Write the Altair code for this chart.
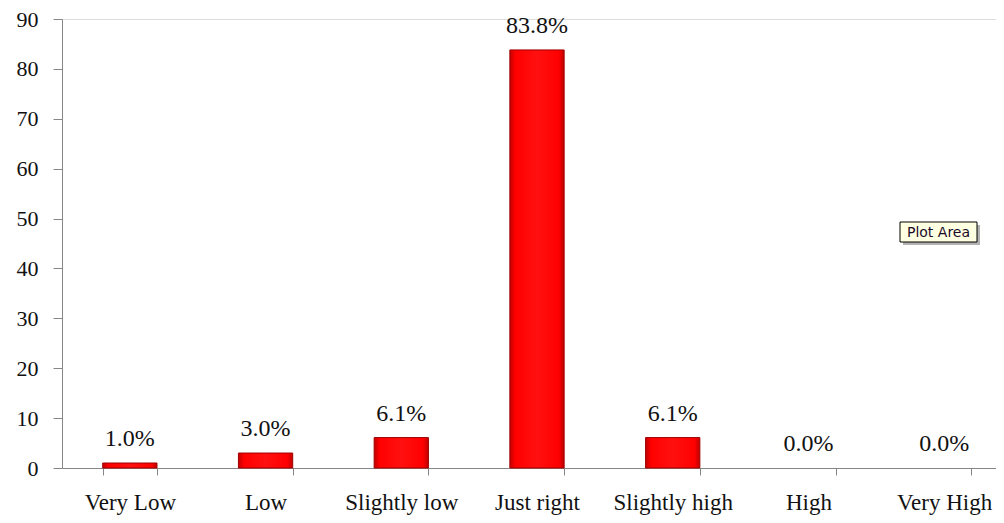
import altair as alt
import pandas as pd

categories = ["Very Low", "Low", "Slightly low", "Just right", "Slightly high", "High", "Very High"]
values = [1.0, 3.0, 6.1, 83.8, 6.1, 0.0, 0.0]
labels = ["1.0%", "3.0%", "6.1%", "83.8%", "6.1%", "0.0%", "0.0%"]
y_ticks = [0, 10, 20, 30, 40, 50, 60, 70, 80, 90]

df = pd.DataFrame({"cat": categories, "val": values, "lab": labels})

FONT = "Liberation Serif"
AXIS_COLOR = "#868686"
TXT = "#111111"

x_enc = alt.X(
    "cat:N",
    sort=categories,
    scale=alt.Scale(range=[0, 950], paddingInner=0.6, paddingOuter=0.3),
    axis=alt.Axis(
        title=None, labelAngle=0, labelFont=FONT, labelFontSize=23, labelColor=TXT,
        labelPadding=16, tickSize=7, tickColor=AXIS_COLOR, domainColor=AXIS_COLOR,
        tickBand="extent", grid=False,
    ),
)
y_enc = alt.Y(
    "val:Q",
    scale=alt.Scale(domain=[0, 90], nice=False),
    axis=alt.Axis(
        title=None, values=y_ticks, labelFont=FONT, labelFontSize=22, labelColor=TXT,
        labelPadding=15, tickSize=9, tickColor=AXIS_COLOR, domainColor=AXIS_COLOR, grid=False,
    ),
)

grad = alt.Gradient(
    gradient="linear",
    stops=[
        alt.GradientStop(color="#C00000", offset=0),
        alt.GradientStop(color="#FF0000", offset=0.1),
        alt.GradientStop(color="#FF1010", offset=0.5),
        alt.GradientStop(color="#FF0000", offset=0.9),
        alt.GradientStop(color="#C00000", offset=1),
    ],
    x1=0, x2=1, y1=0, y2=0,
)

bars = alt.Chart(df).mark_bar(fill=grad, strokeWidth=1).encode(
    x=x_enc, y=y_enc,
    stroke=alt.condition("datum.val > 0", alt.value("#A00000"), alt.value("transparent")),
)

texts = alt.Chart(df).mark_text(
    font=FONT, fontSize=24, baseline="bottom", dy=-12, color=TXT
).encode(x=alt.X("cat:N", sort=categories), y="val:Q", text="lab:N")

shadow = alt.Chart(pd.DataFrame({"a": [0]})).mark_rect(fill="#7f7f7f", opacity=0.6).encode(
    x=alt.value(841), x2=alt.value(918), y=alt.value(206), y2=alt.value(226)
)
box = alt.Chart(pd.DataFrame({"a": [0]})).mark_rect(fill="#FFFFE1", stroke="#000000", strokeWidth=1).encode(
    x=alt.value(838), x2=alt.value(915), y=alt.value(203), y2=alt.value(223)
)
box_text = alt.Chart(pd.DataFrame({"t": ["Plot Area"]})).mark_text(
    font="DejaVu Sans", fontSize=14, color="#1a0a2a", baseline="middle", align="center"
).encode(x=alt.value(876.5), y=alt.value(213.5), text="t:N")

chart = alt.layer(bars, texts, shadow, box, box_text).properties(
    width=934, height=449,
    padding={"left": 54, "top": 11, "right": 0, "bottom": 47},
    autosize=alt.AutoSizeParams(type="none"),
).configure_view(stroke=None).configure(background="white")

chart.save("out.html", embed_options={"renderer": "svg", "actions": False})
